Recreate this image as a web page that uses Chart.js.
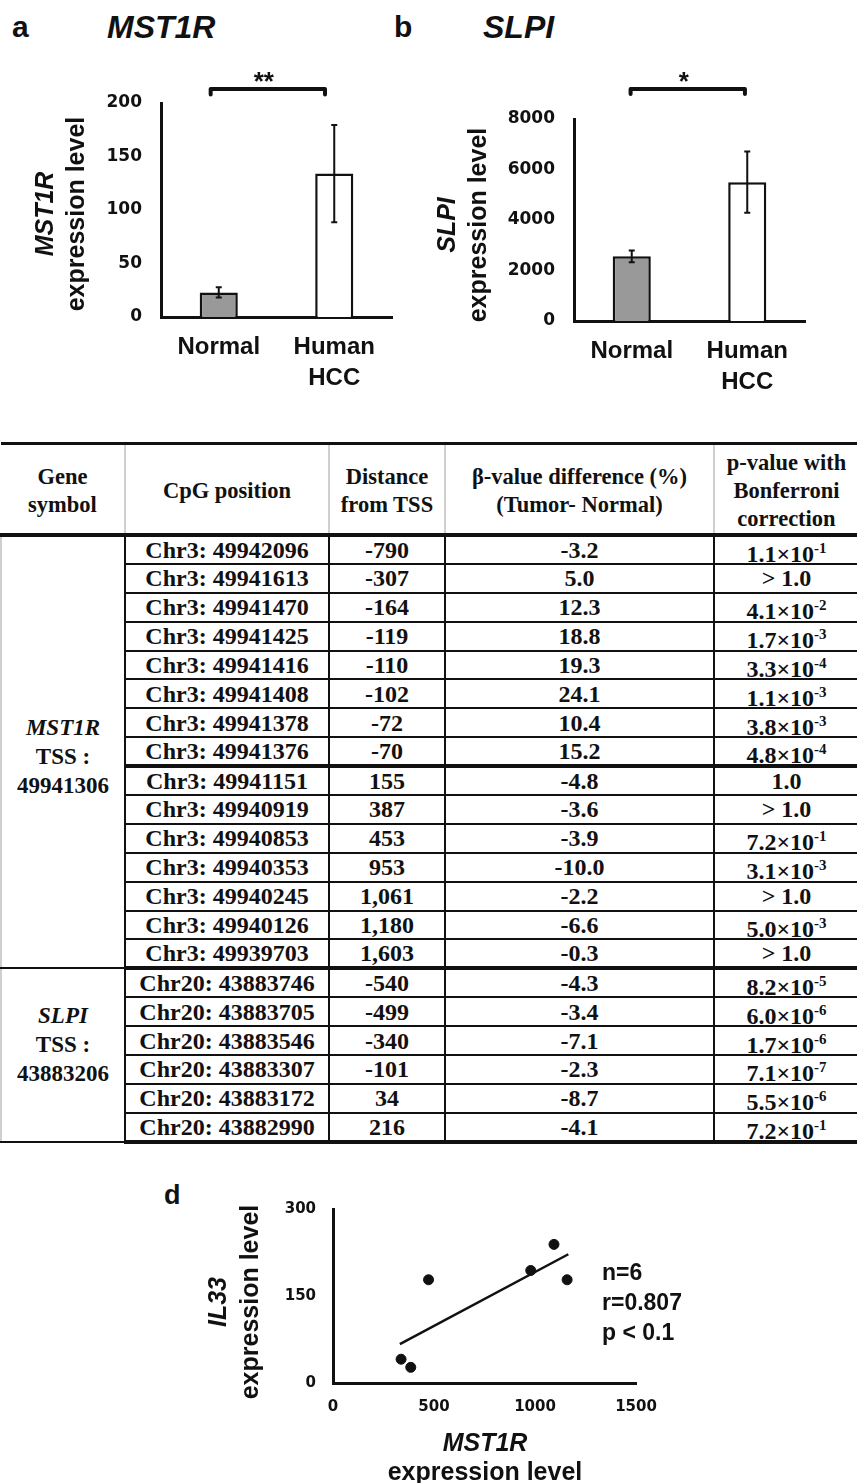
<!DOCTYPE html>
<html lang="en">
<head>
<meta charset="UTF-8">
<title>MST1R and SLPI expression, CpG methylation and IL33 correlation</title>
<script src="https://cdn.jsdelivr.net/npm/chart.js"></script>
<style>
    html, body { margin: 0; padding: 0; background: #fff; }
    body {
        width: 857px; height: 1483px; position: relative; overflow: hidden;
        font-family: 'Liberation Sans', Arial, sans-serif; color: #111;
    }
    canvas { position: absolute; }
    .letter { position: absolute; font-weight: bold; font-size: 30px; line-height: 30px; }
    .gene { position: absolute; font-weight: bold; font-style: italic; font-size: 32px; line-height: 32px; }
    .rot {
        position: absolute; width: 260px; text-align: center; white-space: nowrap;
        font-weight: bold; font-size: 25px; transform: rotate(-90deg);
    }
    .xt { position: absolute; width: 260px; text-align: center; font-weight: bold; font-size: 25px; line-height: 29px; }
    .stats { position: absolute; font-weight: bold; font-size: 23px; line-height: 30px; }
    i { font-style: italic; }

    #cpg {
        position: absolute; left: 0; top: 442px; width: 857px;
        border-collapse: collapse; table-layout: fixed;
        font-family: 'Liberation Serif', 'Times New Roman', serif; font-weight: bold; color: #111;
    }
    #cpg th {
        font-size: 22.5px; line-height: 28px; height: 84px; padding: 4px 0 0;
        border-top: 3px solid #111; border-bottom: 4px solid #111;
        border-left: 2px solid #cfcfcf; border-right: 2px solid #cfcfcf;
        vertical-align: middle; text-align: center;
    }
    #cpg th:first-child { border-left: none; }
    #cpg th:last-child { border-right: none; }
    #cpg tbody tr { height: 28.9px; }
    #cpg td {
        font-size: 24px; line-height: 22px; padding: 0; text-align: center;
        border: 2px solid #111; vertical-align: middle;
    }
    #cpg td:last-child { border-right: none; }
    #cpg td.gs { border-left: 2px solid #cfcfcf; line-height: 29px; font-size: 23px; }
    #cpg tr.thick td { border-bottom: 4px solid #111; }
    #cpg tr.grp td { border-bottom: 4px solid #111; }
    #cpg .low { position: relative; top: 4px; }
    #cpg sup { font-size: 15px; line-height: 0; vertical-align: 9px; }
</style>
</head>
<body>
    <div class="letter" style="left:12px; top:12px;">a</div>
    <div class="gene" style="left:107px; top:11px;">MST1R</div>
    <div class="letter" style="left:394px; top:12px;">b</div>
    <div class="gene" style="left:483px; top:11px;">SLPI</div>

    <canvas id="chartA" width="430" height="400" style="left:0; top:0;"></canvas>
    <canvas id="chartB" width="427" height="400" style="left:430px; top:0;"></canvas>

    <div class="rot" style="left:-70px; top:183px; line-height:31px;"><i>MST1R</i><br>expression level</div>
    <div class="rot" style="left:332px; top:194px; line-height:31px;"><i>SLPI</i><br>expression level</div>

    <table id="cpg">
        <colgroup>
            <col style="width:124px"><col style="width:204px"><col style="width:116px"><col style="width:269px"><col style="width:144px">
        </colgroup>
        <thead>
            <tr>
                <th>Gene<br>symbol</th>
                <th>CpG position</th>
                <th>Distance<br>from TSS</th>
                <th>β-value difference (%)<br>(Tumor- Normal)</th>
                <th>p-value with<br>Bonferroni<br>correction</th>
            </tr>
        </thead>
        <tbody id="rows"></tbody>
    </table>

    <div class="letter" style="left:164px; top:1180px; font-size:27px;">d</div>
    <canvas id="chartD" width="560" height="313" style="left:150px; top:1170px;"></canvas>
    <div class="rot" style="left:103px; top:1270px; line-height:32px;"><i>IL33</i><br>expression level</div>
    <div class="xt" style="left:355px; top:1428px;"><i>MST1R</i><br>expression level</div>
    <div class="stats" style="left:602px; top:1257px;">n=6<br>r=0.807<br>p &lt; 0.1</div>

    <script>
        // panels a, b: mean and error (SE)
        const groups = ['Normal', ['Human', 'HCC']];
        const mst1rMean = [23, 134];
        const mst1rErr = [4.7, 45.5];
        const slpiMean = [2560, 5500];
        const slpiErr = [230, 1210];
        const barFill = ['#999999', '#ffffff'];

        // significance brackets: category positions and height in data units
        const mst1rBracket = { from: -0.07, to: 0.92, y: 213, tip: 208, label: '**' };
        const slpiBracket = { from: -0.01, to: 0.98, y: 9190, tip: 8990, label: '*' };

        // table c
        const mst1rCpg = ['Chr3: 49942096', 'Chr3: 49941613', 'Chr3: 49941470', 'Chr3: 49941425', 'Chr3: 49941416',
            'Chr3: 49941408', 'Chr3: 49941378', 'Chr3: 49941376', 'Chr3: 49941151', 'Chr3: 49940919',
            'Chr3: 49940853', 'Chr3: 49940353', 'Chr3: 49940245', 'Chr3: 49940126', 'Chr3: 49939703'];
        const mst1rDist = ['-790', '-307', '-164', '-119', '-110', '-102', '-72', '-70', '155', '387', '453', '953', '1,061', '1,180', '1,603'];
        const mst1rBeta = ['-3.2', '5.0', '12.3', '18.8', '19.3', '24.1', '10.4', '15.2', '-4.8', '-3.6', '-3.9', '-10.0', '-2.2', '-6.6', '-0.3'];
        const mst1rP = ['1.1×10^-1', '> 1.0', '4.1×10^-2', '1.7×10^-3', '3.3×10^-4', '1.1×10^-3', '3.8×10^-3', '4.8×10^-4',
            '1.0', '> 1.0', '7.2×10^-1', '3.1×10^-3', '> 1.0', '5.0×10^-3', '> 1.0'];
        const slpiCpg = ['Chr20: 43883746', 'Chr20: 43883705', 'Chr20: 43883546', 'Chr20: 43883307', 'Chr20: 43883172', 'Chr20: 43882990'];
        const slpiDist = ['-540', '-499', '-340', '-101', '34', '216'];
        const slpiBeta = ['-4.3', '-3.4', '-7.1', '-2.3', '-8.7', '-4.1'];
        const slpiP = ['8.2×10^-5', '6.0×10^-6', '1.7×10^-6', '7.1×10^-7', '5.5×10^-6', '7.2×10^-1'];

        // panel d
        const mst1rLevel = [337, 385, 473, 979, 1094, 1159];
        const il33Level = [41, 27, 178, 194, 239, 178];
        const trendX = [331, 1165];
        const trendY = [67, 222];

        Chart.defaults.color = '#111';
        const plainTick = v => String(v);

        const errorBars = {
            id: 'errorBars',
            afterDatasetsDraw(chart, args, opts) {
                const { ctx, scales: { x, y } } = chart;
                ctx.save();
                ctx.strokeStyle = '#111';
                ctx.lineWidth = 2;
                opts.mean.forEach((m, i) => {
                    const px = x.getPixelForValue(i);
                    const lo = y.getPixelForValue(m - opts.err[i]);
                    const hi = y.getPixelForValue(m + opts.err[i]);
                    ctx.beginPath();
                    ctx.moveTo(px, lo); ctx.lineTo(px, hi);
                    ctx.moveTo(px - 3, lo); ctx.lineTo(px + 3, lo);
                    ctx.moveTo(px - 3, hi); ctx.lineTo(px + 3, hi);
                    ctx.stroke();
                });
                const b = opts.bracket;
                const x1 = x.getPixelForValue(b.from), x2 = x.getPixelForValue(b.to);
                const yb = y.getPixelForValue(b.y), yt = y.getPixelForValue(b.tip);
                ctx.lineWidth = 4;
                ctx.lineJoin = 'round';
                ctx.lineCap = 'round';
                ctx.beginPath();
                ctx.moveTo(x1, yt); ctx.lineTo(x1, yb); ctx.lineTo(x2, yb); ctx.lineTo(x2, yt);
                ctx.stroke();
                ctx.fillStyle = '#111';
                ctx.font = 'bold 26px "Liberation Sans"';
                ctx.textAlign = 'center';
                ctx.textBaseline = 'alphabetic';
                ctx.fillText(b.label, (x1 + x2) / 2 - 4, yb + 1);
                ctx.restore();
            }
        };

        function barChart(id, mean, err, bracket, yMax, yStep, pad, yWidth, xHeight) {
            return new Chart(document.getElementById(id), {
                type: 'bar',
                data: {
                    labels: groups,
                    datasets: [{
                        data: mean,
                        backgroundColor: barFill,
                        borderColor: '#111',
                        borderWidth: 2.5,
                        barPercentage: 0.33,
                        categoryPercentage: 1
                    }]
                },
                options: {
                    responsive: false,
                    animation: false,
                    events: [],
                    layout: { padding: pad },
                    plugins: {
                        legend: { display: false },
                        tooltip: { enabled: false },
                        errorBars: { mean: mean, err: err, bracket: bracket }
                    },
                    scales: {
                        x: {
                            grid: { display: false, drawTicks: false },
                            border: { color: '#111', width: 3 },
                            ticks: { color: '#111', padding: 15, font: { family: 'Liberation Sans', weight: 'bold', size: 24, lineHeight: 1.3 } },
                            afterFit: s => { s.height = xHeight; }
                        },
                        y: {
                            min: 0, max: yMax,
                            grid: { display: false, drawTicks: false },
                            border: { color: '#111', width: 3 },
                            ticks: { stepSize: yStep, callback: plainTick, color: '#111', padding: 19, font: { family: 'DejaVu Sans', weight: 'bold', size: 17 } },
                            afterFit: s => { s.width = yWidth; }
                        }
                    }
                },
                plugins: [errorBars]
            });
        }

        barChart('chartA', mst1rMean, mst1rErr, mst1rBracket, 200, 50, { top: 103, right: 38, left: 0, bottom: 0 }, 161, 83);
        barChart('chartB', slpiMean, slpiErr, slpiBracket, 8000, 2000, { top: 119, right: 52, left: 0, bottom: 0 }, 144, 79);

        // table rows
        function pCell(p) {
            if (p.indexOf('^') < 0) return p;
            const parts = p.split('^');
            return '<span class="low">' + parts[0] + '<sup>' + parts[1] + '</sup></span>';
        }
        const tbody = document.getElementById('rows');
        function addGroup(gene, tss, cpg, dist, beta, pv, thickAfter, shift) {
            cpg.forEach((c, i) => {
                const tr = document.createElement('tr');
                if (i === thickAfter) tr.className = 'thick';
                if (i === cpg.length - 1) tr.className = 'grp';
                let html = '';
                if (i === 0) {
                    html += '<td class="gs" rowspan="' + cpg.length + '" style="' + shift + '"><i>' + gene + '</i><br>TSS :<br>' + tss + '</td>';
                }
                html += '<td>' + c + '</td><td>' + dist[i] + '</td><td>' + beta[i] + '</td><td>' + pCell(pv[i]) + '</td>';
                tr.innerHTML = html;
                tbody.appendChild(tr);
            });
        }
        addGroup('MST1R', '49941306', mst1rCpg, mst1rDist, mst1rBeta, mst1rP, 7, 'padding-top:8px');
        addGroup('SLPI', '43883206', slpiCpg, slpiDist, slpiBeta, slpiP, -1, 'padding-bottom:22px');

        // panel d scatter
        new Chart(document.getElementById('chartD'), {
            type: 'scatter',
            data: {
                datasets: [
                    {
                        data: mst1rLevel.map((v, i) => ({ x: v, y: il33Level[i] })),
                        backgroundColor: '#111',
                        borderColor: '#111',
                        pointRadius: 5
                    },
                    {
                        type: 'line',
                        data: trendX.map((v, i) => ({ x: v, y: trendY[i] })),
                        borderColor: '#111',
                        borderWidth: 2.5,
                        pointRadius: 0,
                        fill: false
                    }
                ]
            },
            options: {
                responsive: false,
                animation: false,
                events: [],
                layout: { padding: { top: 39, right: 74, left: 0, bottom: 0 } },
                plugins: { legend: { display: false }, tooltip: { enabled: false } },
                scales: {
                    x: {
                        type: 'linear', min: 0, max: 1500,
                        grid: { display: false, drawTicks: false },
                        border: { color: '#111', width: 3 },
                        ticks: { stepSize: 500, callback: plainTick, padding: 15, color: '#111', font: { family: 'DejaVu Sans', weight: 'bold', size: 15 } },
                        afterFit: s => { s.height = 100; }
                    },
                    y: {
                        min: 0, max: 300,
                        grid: { display: false, drawTicks: false },
                        border: { color: '#111', width: 3 },
                        ticks: { stepSize: 150, callback: plainTick, padding: 17, color: '#111', font: { family: 'DejaVu Sans', weight: 'bold', size: 15 } },
                        afterFit: s => { s.width = 183; }
                    }
                }
            }
        });
    </script>
</body>
</html>
